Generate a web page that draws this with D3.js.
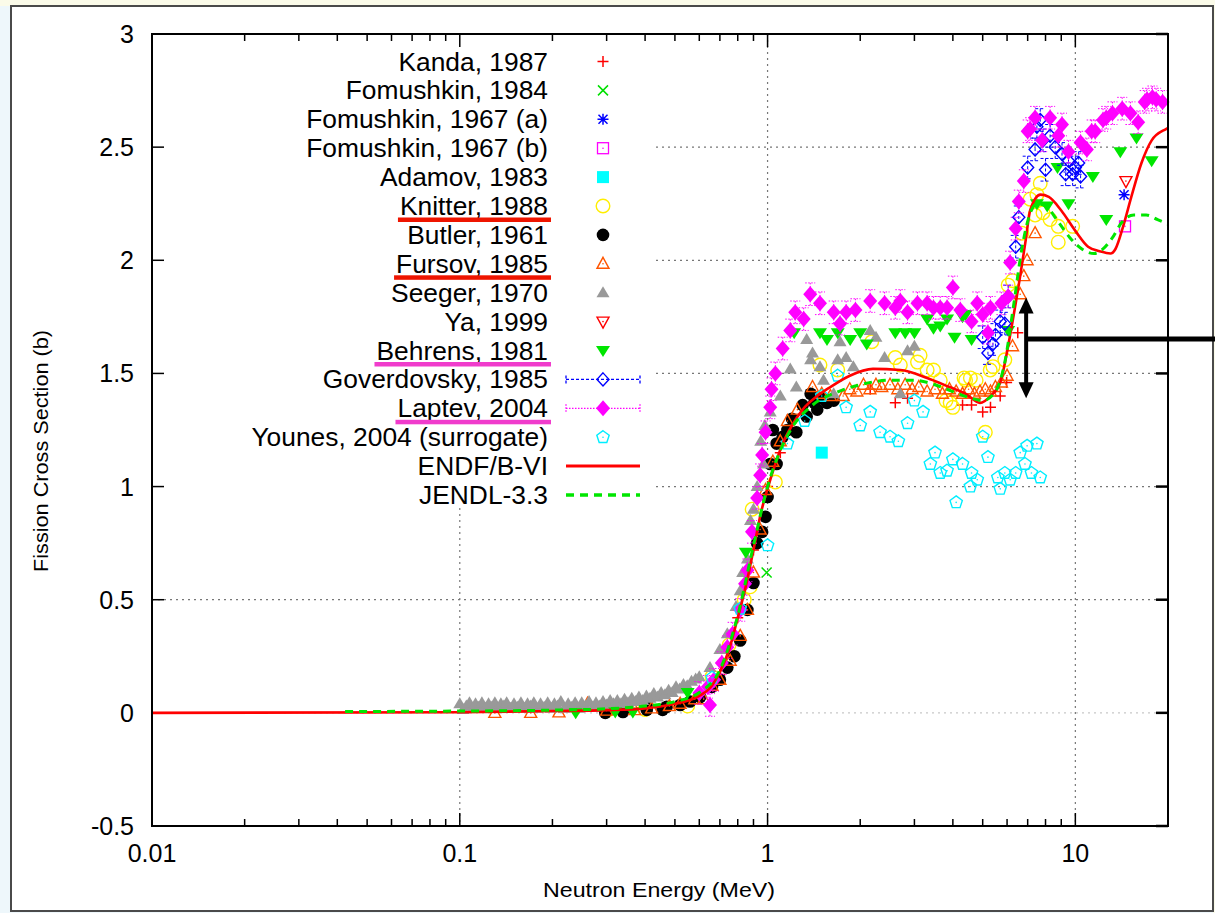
<!DOCTYPE html>
<html><head><meta charset="utf-8">
<script src="https://cdn.jsdelivr.net/npm/d3@7"></script>
<style>
html,body{margin:0;padding:0;background:#eef7fb;}
svg{display:block;font-family:"Liberation Sans",Arial,Helvetica,sans-serif;}
</style></head><body>
<svg id="chart" width="1215" height="913"></svg>
<script>
// ---------- data (E in MeV, sigma in b) ----------
const xTickLabels = ["0.01","0.1","1","10"];
const xTickValues = [0.01,0.1,1,10];
const yTickValues = [-0.5,0,0.5,1,1.5,2,2.5,3];
const yTickLabels = ["-0.5","0","0.5","1","1.5","2","2.5","3"];

const kanda = [[0.7,0.17],[0.8,0.42],[0.9,0.72],[1.0,1.0],[1.1,1.15],[2.155,1.43],[2.6,1.37],[2.85,1.39],[4.3,1.36],[4.6,1.36],[5.0,1.33],[5.3,1.35],[5.7,1.40],[5.98,1.46],[6.5,1.68]];
const fomushkin84 = [[0.993,0.62]];
const fomushkin67a = [[14.4,2.29]];
const fomushkin67b = [[14.5,2.15]];
const adamov = [[1.5,1.15]];
const knitter = [[0.3,0.01],[0.4,0.015],[0.55,0.03],[0.66,0.16],[0.75,0.3],[0.84,0.5],[0.878,0.557],[0.891,0.9],[1.06,1.02],[1.48,1.537],[1.69,1.515],[2.18,1.64],[2.6,1.57],[2.7,1.537],[3.07,1.55],[3.13,1.58],[3.3,1.515],[3.46,1.515],[3.64,1.47],[3.8,1.38],[3.92,1.37],[4.0,1.35],[4.35,1.48],[4.4,1.47],[4.56,1.48],[4.76,1.47],[5.1,1.24],[5.29,1.515],[5.4,1.53],[5.9,1.56],[6.05,1.89],[6.25,1.91],[6.7,2.12],[7.13,2.27],[7.4,2.2],[7.5,2.29],[7.69,2.34],[7.85,2.21],[8.28,2.18],[8.8,2.15],[8.8,2.08],[9.8,2.15]];
const butler = [[0.297,0.0],[0.339,0.004],[0.405,0.013],[0.405,0.04],[0.456,0.013],[0.47,0.027],[0.52,0.035],[0.56,0.05],[0.604,0.07],[0.66,0.115],[0.70,0.146],[0.74,0.2],[0.78,0.25],[0.815,0.32],[0.86,0.455],[0.9,0.574],[0.925,0.75],[0.96,0.8],[0.985,0.866],[1.0,0.954],[1.02,1.10],[1.07,1.10],[1.07,1.19],[1.04,1.25],[1.12,1.22],[1.16,1.25],[1.24,1.24],[1.2,1.3],[1.3,1.36],[1.34,1.31],[1.42,1.37],[1.45,1.34],[1.38,1.41],[1.5,1.39],[1.56,1.37],[1.64,1.38]];
const fursov = [[0.13,0.0],[0.17,0.0],[0.21,0.002],[0.26,0.04],[0.3,0.01],[0.37,0.012],[0.42,0.02],[0.48,0.03],[0.52,0.04],[0.58,0.06],[0.62,0.06],[0.66,0.12],[0.7,0.146],[0.756,0.23],[0.815,0.34],[0.86,0.455],[0.9,0.62],[0.946,0.81],[0.985,0.985],[1.04,1.11],[1.1,1.2],[1.16,1.29],[1.25,1.34],[1.4,1.44],[1.5,1.41],[1.6,1.40],[1.76,1.40],[1.85,1.43],[1.95,1.42],[2.05,1.45],[2.15,1.43],[2.25,1.45],[2.35,1.44],[2.5,1.45],[2.65,1.43],[2.8,1.45],[2.95,1.43],[3.1,1.44],[3.3,1.42],[3.5,1.43],[3.7,1.41],[3.9,1.43],[4.1,1.42],[4.3,1.41],[4.5,1.43],[4.7,1.41],[4.9,1.42],[5.1,1.43],[5.3,1.42],[5.5,1.44],[5.75,1.46],[6.0,1.49],[6.25,1.62],[6.62,1.85],[6.8,1.93],[6.97,2.0],[7.4,2.12]];
const seeger = [[0.100,0.04],[0.1025,0.015],[0.105,0.03],[0.1075,0.045],[0.11,0.02],[0.1125,0.04],[0.115,0.025],[0.118,0.045],[0.121,0.02],[0.124,0.04],[0.127,0.025],[0.130,0.045],[0.133,0.02],[0.136,0.04],[0.139,0.03],[0.142,0.045],[0.146,0.02],[0.150,0.04],[0.154,0.025],[0.158,0.045],[0.162,0.02],[0.166,0.04],[0.170,0.03],[0.174,0.045],[0.178,0.02],[0.183,0.04],[0.188,0.025],[0.193,0.045],[0.198,0.02],[0.203,0.04],[0.208,0.03],[0.213,0.05],[0.219,0.02],[0.225,0.04],[0.231,0.025],[0.237,0.045],[0.243,0.02],[0.249,0.045],[0.256,0.03],[0.263,0.05],[0.270,0.025],[0.277,0.045],[0.284,0.03],[0.292,0.05],[0.300,0.035],[0.308,0.055],[0.316,0.04],[0.325,0.055],[0.334,0.04],[0.343,0.06],[0.352,0.045],[0.362,0.065],[0.372,0.05],[0.382,0.07],[0.393,0.055],[0.404,0.075],[0.415,0.065],[0.427,0.085],[0.439,0.07],[0.451,0.09],[0.464,0.08],[0.477,0.1],[0.490,0.09],[0.504,0.115],[0.518,0.105],[0.533,0.125],[0.548,0.12],[0.566,0.14],[0.584,0.15],[0.6,0.16],[0.65,0.2],[0.7,0.28],[0.74,0.35],[0.79,0.47],[0.815,0.54],[0.83,0.62],[0.86,0.68],[0.88,0.85],[0.9,0.9],[0.925,1.0],[0.95,1.2],[0.97,1.1],[0.98,1.27],[1.02,1.33],[1.1,1.40],[1.185,1.52],[1.24,1.44],[1.34,1.65],[1.4,1.59],[1.38,1.56],[1.48,1.53],[1.52,1.47],[1.64,1.41],[1.69,1.56],[1.72,1.64],[1.8,1.57],[1.9,1.53],[2.155,1.69],[2.25,1.66],[2.4,1.57],[2.7,1.41],[2.85,1.60],[3.0,1.62]];
const ya = [[14.6,2.35]];
const behrens = [[0.238,0.0],[0.32,0.004],[0.365,0.004],[0.55,0.09],[0.85,0.71],[1.22,1.68],[1.48,1.68],[1.56,1.65],[1.69,1.68],[1.855,1.65],[2.0,1.68],[2.1,1.63],[2.6,1.68],[2.8,1.68],[3.0,1.68],[3.3,1.74],[3.46,1.70],[3.64,1.71],[3.83,1.74],[4.05,1.66],[4.3,1.75],[4.4,1.76],[4.6,1.65],[6.05,1.69],[7.5,2.25],[8.1,2.24],[8.75,2.41],[9.5,2.25],[11.4,2.37],[12.6,2.18],[14.0,2.48],[15.8,2.54],[17.7,2.44]];
const goverdovsky = [[5.0,1.66],[5.2,1.59],[5.4,1.63],[5.5,1.67],[5.7,1.73],[5.9,1.72],[6.05,1.84],[6.4,2.06],[6.55,2.19],[7.0,2.41],[7.4,2.49],[7.5,2.59],[7.69,2.62],[7.85,2.53],[8.0,2.40],[8.28,2.55],[8.6,2.50],[9.05,2.47],[9.3,2.38],[9.5,2.44],[9.8,2.38],[10.0,2.41],[10.25,2.43],[10.4,2.37]];
const goverdovskyErr = 0.05;
const laptev = [[0.65,0.035],[0.6,0.088],[0.64,0.115],[0.67,0.146],[0.71,0.22],[0.74,0.29],[0.77,0.35],[0.815,0.455],[0.845,0.57],[0.86,0.63],[0.89,0.80],[0.925,0.95],[0.946,1.05],[0.96,1.14],[0.985,1.24],[1.02,1.35],[1.03,1.43],[1.06,1.50],[1.12,1.61],[1.185,1.69],[1.23,1.77],[1.31,1.74],[1.376,1.85],[1.48,1.81],[1.64,1.77],[1.72,1.72],[1.8,1.77],[1.93,1.78],[2.155,1.82],[2.4,1.81],[2.6,1.79],[2.7,1.82],[2.85,1.77],[3.07,1.81],[3.3,1.81],[3.46,1.79],[3.64,1.79],[3.83,1.79],[4.0,1.88],[4.23,1.78],[4.6,1.73],[4.8,1.81],[5.0,1.76],[5.2,1.68],[5.3,1.79],[5.75,1.81],[6.05,1.84],[6.14,1.99],[6.4,2.14],[6.55,2.26],[6.8,2.35],[7.0,2.57],[7.13,2.58],[7.4,2.63],[7.8,2.53],[8.28,2.63],[8.8,2.55],[9.05,2.60],[9.5,2.48],[10.4,2.52],[10.9,2.49],[11.3,2.57],[11.6,2.57],[12.3,2.62],[12.6,2.63],[13.2,2.65],[14.2,2.67],[15.1,2.65],[16.0,2.61],[16.8,2.70],[17.1,2.71],[17.8,2.72],[18.3,2.71],[19.2,2.70]];
const laptevErr = 0.05;
const younes = [[0.66,0.155],[0.815,0.46],[1.0,0.74],[1.16,1.19],[1.32,1.29],[1.5,1.40],[1.69,1.49],[1.8,1.35],[2.0,1.27],[2.155,1.33],[2.32,1.24],[2.5,1.22],[2.66,1.20],[2.85,1.28],[3.0,1.38],[3.2,1.33],[3.38,1.10],[3.5,1.15],[3.64,1.06],[3.83,1.07],[4.0,1.12],[4.1,0.93],[4.3,1.10],[4.56,1.00],[4.6,1.06],[4.8,1.03],[5.0,1.22],[5.2,1.13],[5.6,1.04],[5.7,0.99],[5.9,1.06],[6.14,1.03],[6.4,1.06],[6.62,1.15],[6.86,1.10],[6.97,1.18],[7.2,1.06],[7.5,1.19],[7.69,1.04]];
const endf = [[0.01,0],[0.1,0.003],[0.2,0.008],[0.3,0.012],[0.4,0.02],[0.5,0.04],[0.6,0.075],[0.65,0.11],[0.7,0.18],[0.75,0.28],[0.8,0.42],[0.85,0.56],[0.9,0.72],[0.95,0.88],[1.0,0.99],[1.06,1.1],[1.12,1.19],[1.2,1.27],[1.3,1.34],[1.45,1.40],[1.6,1.44],[1.85,1.49],[2.2,1.52],[2.7,1.515],[3.3,1.48],[3.9,1.44],[4.4,1.41],[4.9,1.37],[5.3,1.40],[5.7,1.46],[6.14,1.67],[6.4,1.81],[6.6,1.92],[6.9,2.09],[7.13,2.22],[7.7,2.29],[8.2,2.28],[9.0,2.22],[10.0,2.13],[11.0,2.06],[12.0,2.04],[13.0,2.03],[13.5,2.05],[14.3,2.15],[15.2,2.28],[16.4,2.43],[17.7,2.53],[19.7,2.58],[20,2.585]];
const jendl = [[0.0424,0.006],[0.1,0.008],[0.2,0.012],[0.3,0.018],[0.4,0.03],[0.5,0.05],[0.6,0.09],[0.7,0.19],[0.8,0.43],[0.9,0.74],[1.0,1.0],[1.1,1.16],[1.2,1.26],[1.4,1.36],[1.7,1.42],[2.0,1.45],[2.5,1.47],[3.0,1.47],[3.5,1.45],[4.0,1.42],[4.6,1.39],[5.0,1.38],[5.5,1.42],[5.9,1.55],[6.3,1.80],[6.7,2.05],[7.1,2.2],[7.5,2.25],[8.0,2.24],[8.8,2.17],[9.6,2.1],[10.5,2.05],[11.5,2.03],[12.3,2.05],[13.2,2.1],[14.2,2.17],[15.5,2.2],[17,2.2],[18.5,2.18],[20,2.16]];

const legendNames = ["Kanda, 1987","Fomushkin, 1984","Fomushkin, 1967 (a)","Fomushkin, 1967 (b)","Adamov, 1983","Knitter, 1988","Butler, 1961","Fursov, 1985","Seeger, 1970","Ya, 1999","Behrens, 1981","Goverdovsky, 1985","Laptev, 2004","Younes, 2004 (surrogate)","ENDF/B-VI","JENDL-3.3"];
const underlined = {"Knitter, 1988":"#ee1500","Fursov, 1985":"#ee1500","Behrens, 1981":"#f03ccc","Laptev, 2004":"#f03ccc"};

// annotation (double arrow and pointer line)
const arrowE = 6.92, arrowTop = 1.835, arrowBottom = 1.39, pointerS = 1.652;

// ---------- drawing ----------
const W = 1215, H = 913;
const svg = d3.select("#chart");
const x = d3.scaleLog().domain([0.01, 20]).range([152, 1168]);
const y = d3.scaleLinear().domain([-0.5, 3]).range([826, 34]);

// page background & frame
svg.append("rect").attr("x",0).attr("y",0).attr("width",W).attr("height",H).attr("fill","#eef7fb");
svg.append("rect").attr("x",0).attr("y",0).attr("width",W).attr("height",6).attr("fill","#fbfbe9");
svg.append("rect").attr("x",1213).attr("y",0).attr("width",2).attr("height",H).attr("fill","#fbfbe9");
svg.append("rect").attr("x",11).attr("y",6).attr("width",1202).attr("height",905)
  .attr("fill","#ffffff").attr("stroke","#4a4a4a").attr("stroke-width",2);

const [x0,x1] = x.range(), [y0,y1] = [y(3), y(-0.5)];

// grid
const grid = svg.append("g");
[0.1,1,10].forEach(v => grid.append("line").attr("x1",x(v)).attr("x2",x(v)).attr("y1",y0).attr("y2",y1)
  .attr("stroke","#777").attr("stroke-width",1.2).attr("stroke-dasharray","2,4"));
[0,0.5,1,1.5,2,2.5].forEach(v => grid.append("line").attr("x1",x0).attr("x2",x1).attr("y1",y(v)).attr("y2",y(v))
  .attr("stroke", v===0 ? "#c8c8c8" : "#777").attr("stroke-width",1.2).attr("stroke-dasharray","2,4"));

// legend background (opaque)
svg.append("rect").attr("x",x0+1).attr("y",y0+1).attr("width",500).attr("height",470).attr("fill","#fff");

// ticks
const ticks = svg.append("g").attr("stroke","#000");
yTickValues.forEach(v => {
  ticks.append("line").attr("x1",x0).attr("x2",x0+12).attr("y1",y(v)).attr("y2",y(v)).attr("stroke-width",1.5);
  ticks.append("line").attr("x1",x1-12).attr("x2",x1).attr("y1",y(v)).attr("y2",y(v)).attr("stroke-width",2.5);
});
const decades = [0.01,0.1,1,10];
decades.forEach(d => {
  for (let m = 1; m <= 9; m++) {
    const v = d*m;
    if (v > 20) break;
    const len = m === 1 ? 13 : 7;
    ticks.append("line").attr("x1",x(v)).attr("x2",x(v)).attr("y1",y1).attr("y2",y1-len).attr("stroke-width",1.5);
    ticks.append("line").attr("x1",x(v)).attr("x2",x(v)).attr("y1",y0).attr("y2",y0+len).attr("stroke-width",1.5);
  }
});

// tick labels
const lab = svg.append("g").attr("font-size",25).attr("fill","#000");
yTickValues.forEach((v,i) => lab.append("text").attr("x",134).attr("y",y(v)+9).attr("text-anchor","end").text(yTickLabels[i]));
xTickValues.forEach((v,i) => lab.append("text").attr("x",x(v)).attr("y",862).attr("text-anchor","middle").text(xTickLabels[i]));

// axis titles
svg.append("text").attr("x",659).attr("y",897).attr("text-anchor","middle").attr("font-size",21)
  .attr("textLength",232).attr("lengthAdjust","spacingAndGlyphs").text("Neutron Energy (MeV)");
svg.append("text").attr("transform","translate(48,451) rotate(-90)").attr("text-anchor","middle").attr("font-size",21)
  .attr("textLength",242).attr("lengthAdjust","spacingAndGlyphs").text("Fission Cross Section (b)");

// marker drawing
function marker(g, type, cx, cy, color) {
  const dot = () => g.append("circle").attr("cx",cx).attr("cy",cy).attr("r",0.8).attr("fill",color);
  switch (type) {
    case "plus": g.append("path").attr("d",`M${cx-5.5},${cy}H${cx+5.5}M${cx},${cy-5.5}V${cy+5.5}`).attr("stroke",color).attr("stroke-width",1.5).attr("fill","none"); break;
    case "cross": g.append("path").attr("d",`M${cx-5},${cy-5}L${cx+5},${cy+5}M${cx-5},${cy+5}L${cx+5},${cy-5}`).attr("stroke",color).attr("stroke-width",1.5).attr("fill","none"); break;
    case "star": g.append("path").attr("d",`M${cx-5.5},${cy}H${cx+5.5}M${cx},${cy-5.5}V${cy+5.5}M${cx-4.5},${cy-4.5}L${cx+4.5},${cy+4.5}M${cx-4.5},${cy+4.5}L${cx+4.5},${cy-4.5}`).attr("stroke",color).attr("stroke-width",1.5).attr("fill","none"); break;
    case "sqOpen": g.append("rect").attr("x",cx-5.5).attr("y",cy-5.5).attr("width",11).attr("height",11).attr("fill","none").attr("stroke",color).attr("stroke-width",1.3); dot(); break;
    case "sqFill": g.append("rect").attr("x",cx-6).attr("y",cy-6).attr("width",12).attr("height",12).attr("fill",color); break;
    case "circOpen": g.append("circle").attr("cx",cx).attr("cy",cy).attr("r",6.8).attr("fill","none").attr("stroke",color).attr("stroke-width",1.4); break;
    case "circFill": g.append("circle").attr("cx",cx).attr("cy",cy).attr("r",6.3).attr("fill",color); break;
    case "triOpen": g.append("path").attr("d",`M${cx},${cy-6.5}L${cx+6},${cy+4.5}L${cx-6},${cy+4.5}Z`).attr("fill","none").attr("stroke",color).attr("stroke-width",1.4); dot(); break;
    case "triFill": g.append("path").attr("d",`M${cx},${cy-6.5}L${cx+6.5},${cy+4.5}L${cx-6.5},${cy+4.5}Z`).attr("fill",color); break;
    case "itriOpen": g.append("path").attr("d",`M${cx},${cy+6.5}L${cx+6},${cy-4.5}L${cx-6},${cy-4.5}Z`).attr("fill","none").attr("stroke",color).attr("stroke-width",1.4); dot(); break;
    case "itriFill": g.append("path").attr("d",`M${cx},${cy+6.5}L${cx+7},${cy-4.5}L${cx-7},${cy-4.5}Z`).attr("fill",color); break;
    case "diaOpen": g.append("path").attr("d",`M${cx},${cy-6.5}L${cx+6},${cy}L${cx},${cy+6.5}L${cx-6},${cy}Z`).attr("fill","none").attr("stroke",color).attr("stroke-width",1.4); break;
    case "diaFill": g.append("path").attr("d",`M${cx},${cy-8}L${cx+7},${cy}L${cx},${cy+8}L${cx-7},${cy}Z`).attr("fill",color); break;
    case "pentOpen": {
      const pts = d3.range(5).map(k => { const a = -Math.PI/2 + k*2*Math.PI/5; return [cx+6.5*Math.cos(a), cy+6.5*Math.sin(a)]; });
      g.append("path").attr("d","M"+pts.join("L")+"Z").attr("fill","none").attr("stroke",color).attr("stroke-width",1.4); dot(); break;
    }
  }
}

const series = [
  {name:legendNames[0], data:kanda, type:"plus", color:"#ff0000"},
  {name:legendNames[1], data:fomushkin84, type:"cross", color:"#00e000"},
  {name:legendNames[2], data:fomushkin67a, type:"star", color:"#0000ff"},
  {name:legendNames[3], data:fomushkin67b, type:"sqOpen", color:"#ff00ff"},
  {name:legendNames[4], data:adamov, type:"sqFill", color:"#00ffff"},
  {name:legendNames[5], data:knitter, type:"circOpen", color:"#ffee00"},
  {name:legendNames[6], data:butler, type:"circFill", color:"#000000"},
  {name:legendNames[7], data:fursov, type:"triOpen", color:"#ff5500"},
  {name:legendNames[8], data:seeger, type:"triFill", color:"#999999"},
  {name:legendNames[9], data:ya, type:"itriOpen", color:"#ff0000"},
  {name:legendNames[10], data:behrens, type:"itriFill", color:"#00e600"},
  {name:legendNames[11], data:goverdovsky, type:"diaOpen", color:"#0000ff", err:goverdovskyErr, dash:"3,2"},
  {name:legendNames[12], data:laptev, type:"diaFill", color:"#ff00ff", err:laptevErr, dash:"1.5,1.5"},
  {name:legendNames[13], data:younes, type:"pentOpen", color:"#00eeff"},
];
const lines = [
  {name:legendNames[14], data:endf, color:"#ff0000", dash:null, width:2.6},
  {name:legendNames[15], data:jendl, color:"#00e600", dash:"8,6", width:3},
];

const plotG = svg.append("g");
series.forEach(s => {
  const g = plotG.append("g");
  s.data.forEach(([e, v]) => {
    const cx = x(e), cy = y(v);
    if (s.err) {
      const ya_ = y(v + s.err), yb_ = y(v - s.err);
      g.append("path").attr("d",`M${cx},${ya_}V${yb_}M${cx-5},${ya_}H${cx+5}M${cx-5},${yb_}H${cx+5}`)
        .attr("stroke",s.color).attr("stroke-width",1).attr("stroke-dasharray",s.dash).attr("fill","none");
    }
    marker(g, s.type, cx, cy, s.color);
  });
});
const lineGen = d3.line().x(d => x(d[0])).y(d => y(d[1])).curve(d3.curveMonotoneX);
lines.forEach(l => {
  plotG.append("path").datum(l.data).attr("d",lineGen).attr("fill","none").attr("stroke",l.color)
    .attr("stroke-width",l.width).attr("stroke-dasharray",l.dash);
});

// plot border
svg.append("rect").attr("x",x0).attr("y",y0).attr("width",x1-x0).attr("height",y1-y0)
  .attr("fill","none").attr("stroke","#000").attr("stroke-width",2);

// legend
const leg = svg.append("g");
const rowY = i => 61.5 + i*28.9;
const textScale = 1.055;
const allItems = series.map(s => ({...s, kind:"pt"})).concat(lines.map(l => ({...l, kind:"line"})));
allItems.forEach((it, i) => {
  const cy = rowY(i);
  const t = leg.append("text").attr("transform",`translate(548,${cy+9}) scale(${textScale},1)`)
    .attr("text-anchor","end").attr("font-size",25).text(it.name);
  if (underlined[it.name]) {
    const w = t.node().getComputedTextLength() * textScale;
    leg.append("rect").attr("x",548-w-2).attr("y",cy+11.5).attr("width",w+5).attr("height",4.5).attr("fill",underlined[it.name]);
  }
  if (it.kind === "pt") {
    if (it.err) {
      leg.append("path").attr("d",`M566,${cy}H640M566,${cy-4}V${cy+4}M640,${cy-4}V${cy+4}`)
        .attr("stroke",it.color).attr("stroke-width",1.3).attr("stroke-dasharray",it.dash).attr("fill","none");
    }
    marker(leg, it.type, 603, cy, it.color);
  } else {
    leg.append("line").attr("x1",566).attr("x2",640).attr("y1",cy).attr("y2",cy)
      .attr("stroke",it.color).attr("stroke-width",it.width+0.4).attr("stroke-dasharray",it.dash);
  }
});

// annotation arrow
const ax = x(arrowE), aT = y(arrowTop), aB = y(arrowBottom), aP = y(pointerS);
svg.append("line").attr("x1",ax).attr("x2",ax).attr("y1",aT+12).attr("y2",aB-12).attr("stroke","#000").attr("stroke-width",4);
svg.append("path").attr("d",`M${ax},${aT}L${ax+7.5},${aT+16}L${ax-7.5},${aT+16}Z`).attr("fill","#000");
svg.append("path").attr("d",`M${ax},${aB}L${ax+7.5},${aB-16}L${ax-7.5},${aB-16}Z`).attr("fill","#000");
svg.append("line").attr("x1",ax).attr("x2",W).attr("y1",aP).attr("y2",aP).attr("stroke","#000").attr("stroke-width",5);
</script></body></html>
